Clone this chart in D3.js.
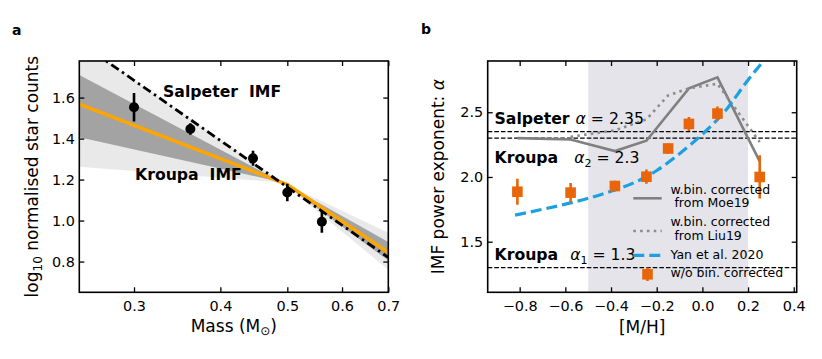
<!DOCTYPE html>
<html><head><meta charset="utf-8">
<script src="https://cdn.jsdelivr.net/npm/d3@7"></script>
<style>
body{margin:0;background:#fff;}
text{font-family:"DejaVu Sans",sans-serif;}
</style></head>
<body><svg id="c" width="822" height="359"></svg>
<script>
// ---------- Panel a data ----------
const massPts = [0.3, 0.362, 0.446, 0.5, 0.561];
const countPts = [1.553, 1.447, 1.304, 1.137, 0.994];
const countErr = [0.07, 0.028, 0.037, 0.043, 0.053];
const salpMass = [0.25, 0.7];
const salpVal = [1.87, 0.82];
const kroupaMass = [0.25, 0.5, 0.7];
const kroupaVal = [1.568, 1.176, 0.845];
const bandMass = [0.25, 0.492, 0.7];
const darkLo = [1.407, 1.186, 0.805];
const darkHi = [1.71, 1.186, 0.895];
const lightLo = [1.263, 1.186, 0.76];
const lightHi = [1.87, 1.186, 0.94];
const xTicksA = [0.3, 0.4, 0.5, 0.6, 0.7];
const yTicksA = [0.8, 1.0, 1.2, 1.4, 1.6];

// ---------- Panel b data ----------
const feh = [-0.81, -0.577, -0.383, -0.245, -0.15, -0.059, 0.066, 0.251];
const alphaRaw = [1.886, 1.879, 1.93, 2.002, 2.22, 2.41, 2.49, 2.0];
const alphaErr = [0.1, 0.075, 0.04, 0.055, 0.04, 0.054, 0.054, 0.167];
const moeFeh = [-0.81, -0.577, -0.383, -0.245, -0.059, 0.066, 0.251];
const moeAlpha = [2.30, 2.29, 2.20, 2.28, 2.685, 2.77, 2.12];
const liuFeh = [-0.577, -0.383, -0.245, -0.15, -0.059, 0.066, 0.251];
const liuAlpha = [2.31, 2.36, 2.445, 2.63, 2.685, 2.72, 2.27];
const yanFeh = [-0.82, -0.7, -0.6, -0.5, -0.4, -0.3, -0.2, -0.1, 0, 0.1, 0.2, 0.26];
const yanAlpha = [1.705, 1.75, 1.79, 1.835, 1.89, 1.955, 2.05, 2.18, 2.33, 2.51, 2.75, 2.88];
const refAlpha = [2.35, 2.3, 1.3];
const shadeRange = [-0.5, 0.2];
const xTicksB = [-0.8, -0.6, -0.4, -0.2, 0.0, 0.2, 0.4];
const yTicksB = [1.5, 2.0, 2.5];
const legendLabels = [["w.bin. corrected", " from Moe19"], ["w.bin. corrected", " from Liu19"], ["Yan et al. 2020"], ["w/o bin. corrected"]];

const svg = d3.select("#c");
const TICK = 14.4, LAB = 17;

function frameAxes(g, x, y, xt, yt, x0, x1, y0, y1, fmtX, fmtY) {
  const ax = [
    [d3.axisBottom(x).tickValues(xt).tickFormat(fmtX), `translate(0,${y0})`],
    [d3.axisTop(x).tickValues(xt).tickFormat(""), `translate(0,${y1})`],
    [d3.axisLeft(y).tickValues(yt).tickFormat(fmtY), `translate(${x0},0)`],
    [d3.axisRight(y).tickValues(yt).tickFormat(""), `translate(${x1},0)`]
  ];
  ax.forEach(([a, t], i) => {
    const gg = g.append("g").attr("transform", t)
      .call(a.tickSizeInner(-5).tickSizeOuter(0).tickPadding(i === 0 ? 8 : 4.5));
    gg.select(".domain").remove();
    gg.selectAll(".tick line").attr("stroke", "#000").attr("stroke-width", 1.3);
    gg.selectAll("text").attr("font-size", TICK).attr("fill", "#000")
      .attr("font-family", "DejaVu Sans");
  });
  g.append("rect").attr("x", x0).attr("y", y1).attr("width", x1 - x0).attr("height", y0 - y1)
    .attr("fill", "none").attr("stroke", "#000").attr("stroke-width", 1.6);
}

// ================= Panel a =================
const ax0 = 79.3, ax1 = 388.3, yTop = 61, yBot = 292.3;
const xA = d3.scaleLog().domain([0.25, 0.7]).range([ax0, ax1]);
const yA = d3.scaleLinear().domain([0.65, 1.78]).range([yBot, 60.7]);
const gA = svg.append("g");
svg.append("clipPath").attr("id", "clipA").append("rect")
  .attr("x", ax0).attr("y", yTop).attr("width", ax1 - ax0).attr("height", yBot - yTop);
const pA = gA.append("g").attr("clip-path", "url(#clipA)");

const band = (lo, hi) => d3.area().x((d, i) => xA(bandMass[i])).y0((d, i) => yA(lo[i])).y1((d, i) => yA(hi[i]))(bandMass);
pA.append("path").attr("d", band(lightLo, lightHi)).attr("fill", "#e9e9e9");
pA.append("path").attr("d", band(darkLo, darkHi)).attr("fill", "#a3a3a3");

pA.append("path").attr("d", d3.line().x((d, i) => xA(kroupaMass[i])).y((d, i) => yA(kroupaVal[i]))(kroupaMass))
  .attr("fill", "none").attr("stroke", "#ffa500").attr("stroke-width", 3.6);
pA.append("path").attr("d", d3.line().x((d, i) => xA(salpMass[i])).y((d, i) => yA(salpVal[i]))(salpMass))
  .attr("fill", "none").attr("stroke", "#000").attr("stroke-width", 2.8)
  .attr("stroke-dasharray", "9,4,2.5,4");

massPts.forEach((m, i) => {
  pA.append("line").attr("x1", xA(m)).attr("x2", xA(m))
    .attr("y1", yA(countPts[i] - countErr[i])).attr("y2", yA(countPts[i] + countErr[i]))
    .attr("stroke", "#000").attr("stroke-width", 2.6);
  pA.append("circle").attr("cx", xA(m)).attr("cy", yA(countPts[i])).attr("r", 5).attr("fill", "#000");
});

frameAxes(gA, xA, yA, xTicksA, yTicksA, ax0, ax1, yBot, yTop, d3.format(".1f"), d3.format(".1f"));

gA.append("text").attr("x", 163).attr("y", 97).attr("font-weight", "bold").attr("font-size", 15.7)
  .attr("xml:space", "preserve").text("Salpeter  IMF");
gA.append("text").attr("x", 135).attr("y", 179.5).attr("font-weight", "bold").attr("font-size", 15.7)
  .attr("xml:space", "preserve").text("Kroupa  IMF");

const xlA = gA.append("text").attr("x", (ax0 + ax1) / 2).attr("y", 331.5).attr("text-anchor", "middle").attr("font-size", LAB);
xlA.append("tspan").text("Mass (M");
xlA.append("tspan").attr("font-size", 12).attr("dy", 3).text("⊙");
xlA.append("tspan").attr("dy", -3).text(")");

const ylA = gA.append("text").attr("transform", `translate(38,${(yTop + yBot) / 2}) rotate(-90)`)
  .attr("text-anchor", "middle").attr("font-size", LAB);
ylA.append("tspan").text("log");
ylA.append("tspan").attr("font-size", 12).attr("dy", 4).text("10");
ylA.append("tspan").attr("dy", -4).text(" normalised star counts");

svg.append("text").attr("x", 12).attr("y", 35).attr("font-weight", "bold").attr("font-size", 14).text("a");

// ================= Panel b =================
const bx0 = 487.7, bx1 = 796.7;
const xB = d3.scaleLinear().domain([-0.94, 0.413]).range([bx0, bx1]);
const yB = d3.scaleLinear().domain([1.109, 2.896]).range([yBot, yTop]);
const gB = svg.append("g");
svg.append("clipPath").attr("id", "clipB").append("rect")
  .attr("x", bx0).attr("y", yTop).attr("width", bx1 - bx0).attr("height", yBot - yTop);
const pB = gB.append("g").attr("clip-path", "url(#clipB)");

pB.append("rect").attr("x", xB(shadeRange[0])).attr("width", xB(shadeRange[1]) - xB(shadeRange[0]))
  .attr("y", yTop).attr("height", yBot - yTop).attr("fill", "#e5e4ea");

refAlpha.forEach(v => {
  pB.append("line").attr("x1", bx0).attr("x2", bx1).attr("y1", yB(v)).attr("y2", yB(v))
    .attr("stroke", "#000").attr("stroke-width", 1.3).attr("stroke-dasharray", "4.6,2");
});

const lineB = (xs, ys) => d3.line().x((d, i) => xB(xs[i])).y((d, i) => yB(ys[i]))(xs);
pB.append("path").attr("d", lineB(moeFeh, moeAlpha)).attr("fill", "none")
  .attr("stroke", "#808080").attr("stroke-width", 2.6);
pB.append("path").attr("d", lineB(liuFeh, liuAlpha)).attr("fill", "none")
  .attr("stroke", "#8c8c8c").attr("stroke-width", 2.6).attr("stroke-dasharray", "2.6,4.2");
pB.append("path").attr("d", d3.line().curve(d3.curveMonotoneX).x((d, i) => xB(yanFeh[i])).y((d, i) => yB(yanAlpha[i]))(yanFeh))
  .attr("fill", "none").attr("stroke", "#1ba1e2").attr("stroke-width", 3.2).attr("stroke-dasharray", "11,5");

const ORG = "#e8650a";
feh.forEach((f, i) => {
  pB.append("line").attr("x1", xB(f)).attr("x2", xB(f))
    .attr("y1", yB(alphaRaw[i] - alphaErr[i])).attr("y2", yB(alphaRaw[i] + alphaErr[i]))
    .attr("stroke", ORG).attr("stroke-width", 2.6);
  pB.append("rect").attr("x", xB(f) - 5.3).attr("y", yB(alphaRaw[i]) - 5.3)
    .attr("width", 10.6).attr("height", 10.6).attr("fill", ORG);
});

frameAxes(gB, xB, yB, xTicksB, yTicksB, bx0, bx1, yBot, yTop, d3.format(".1f"), d3.format(".1f"));

// annotations
function annot(x, y, bold, sym, sub, rest, gap) {
  const t = gB.append("text").attr("x", x).attr("y", y).attr("font-size", 15.7);
  t.append("tspan").attr("font-weight", "bold").text(bold);
  t.append("tspan").attr("dx", gap).attr("font-style", "italic").text(sym);
  if (sub) t.append("tspan").attr("font-size", 11).attr("dy", 4).text(sub);
  t.append("tspan").attr("dy", sub ? -4 : 0).text(rest);
}
annot(494.5, 124, "Salpeter", "α", null, " = 2.35", 6);
annot(494.5, 163, "Kroupa", "α", "2", " = 2.3", 16);
annot(494.5, 259.5, "Kroupa", "α", "1", " = 1.3", 12);

// legend
const lg = gB.append("g");
const hx0 = 633.3, hx1 = 661.7, tx = 670.5;
lg.append("line").attr("x1", hx0).attr("x2", hx1).attr("y1", 198.3).attr("y2", 198.3)
  .attr("stroke", "#808080").attr("stroke-width", 2.6);
lg.append("line").attr("x1", hx0).attr("x2", hx1).attr("y1", 231).attr("y2", 231)
  .attr("stroke", "#8c8c8c").attr("stroke-width", 2.6).attr("stroke-dasharray", "2.6,4.2");
lg.append("line").attr("x1", hx0).attr("x2", hx1).attr("y1", 255.3).attr("y2", 255.3)
  .attr("stroke", "#1ba1e2").attr("stroke-width", 3.2).attr("stroke-dasharray", "11,5");
lg.append("line").attr("x1", 647.5).attr("x2", 647.5).attr("y1", 267.5).attr("y2", 281)
  .attr("stroke", ORG).attr("stroke-width", 2.6);
lg.append("rect").attr("x", 647.5 - 5.3).attr("y", 274.3 - 5.3).attr("width", 10.6).attr("height", 10.6).attr("fill", ORG);
const legY = [193.5, 226.2, 259.3, 276.8];
legendLabels.forEach((lines, i) => {
  const t = lg.append("text").attr("x", tx).attr("y", legY[i]).attr("font-size", 12.5)
    .attr("xml:space", "preserve");
  lines.forEach((s, j) => {
    t.append("tspan").attr("x", tx).attr("dy", j === 0 ? 0 : 13.4).text(s);
  });
});

gB.append("text").attr("x", (bx0 + bx1) / 2).attr("y", 333).attr("text-anchor", "middle")
  .attr("font-size", LAB).text("[M/H]");
const ylB = gB.append("text").attr("transform", `translate(444,${(yTop + yBot) / 2}) rotate(-90)`)
  .attr("text-anchor", "middle").attr("font-size", LAB);
ylB.append("tspan").text("IMF power exponent: ");
ylB.append("tspan").attr("font-style", "italic").text("α");

svg.append("text").attr("x", 421).attr("y", 33.5).attr("font-weight", "bold").attr("font-size", 14).text("b");
</script></body></html>
